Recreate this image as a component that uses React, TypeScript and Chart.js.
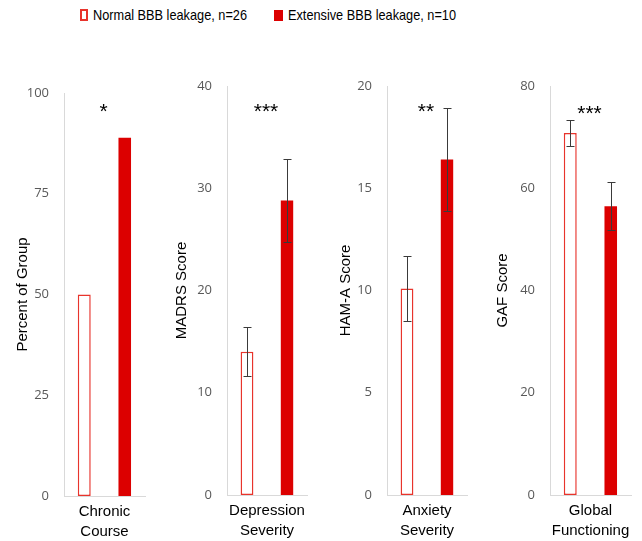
import React, { useEffect, useRef } from "react";
import { Chart, registerables } from "chart.js";

Chart.register(...registerables);

// ---- data ----
const categories: string[][] = [
  ["Chronic", "Course"],
  ["Depression", "Severity"],
  ["Anxiety", "Severity"],
  ["Global", "Functioning"],
];
const yTitles = ["Percent of Group", "MADRS Score", "HAM-A Score", "GAF Score"];
const yMax = [100, 40, 20, 80];
const yStep = [25, 10, 5, 20];
const normalValues = [50, 14.0, 10.1, 70.8];
const extensiveValues = [88.9, 28.8, 16.4, 56.5];
const normalErr: (number | null)[] = [null, 2.4, 1.6, 2.6];
const extensiveErr: (number | null)[] = [null, 4.05, 2.5, 4.7];
const significance = ["*", "***", "**", "***"];
const seriesLabels = ["Normal BBB leakage, n=26", "Extensive BBB leakage, n=10"];

// ---- layout / style ----
const RED_FILL = "#dc0000";
const RED_LINE = "#e8342c";
const AXIS_GREY = "#d9d9d9";
const CANVAS_TOP = 60;
const CANVAS_H = 481;
const PANELS = [
  { left: 0, width: 160, axisX: 64, axisRight: 145, top: 93, bottom: 496, titleCX: 23, starY: 106 },
  { left: 160, width: 160, axisX: 227, axisRight: 307, top: 86, bottom: 495, titleCX: 182, starY: 106 },
  { left: 320, width: 160, axisX: 387, axisRight: 467, top: 86, bottom: 495, titleCX: 346, starY: 106 },
  { left: 480, width: 162, axisX: 550, axisRight: 631, top: 86, bottom: 495, titleCX: 503, starY: 108 },
];
const SANS = "'Liberation Sans', Arial, sans-serif";
const LEGEND_FONT = "15px " + SANS;
const LEGEND_TEXT = [
  { left: 93, width: 154 },
  { left: 288, width: 168 },
];

function Panel({ idx }: { idx: number }) {
  const ref = useRef<HTMLCanvasElement | null>(null);
  const p = PANELS[idx];

  useEffect(() => {
    if (!ref.current) return;
    const errs = [normalErr[idx], extensiveErr[idx]];
    const errorBarPlugin = {
      id: "errorBars" + idx,
      afterDatasetsDraw(chart: any) {
        const ctx = chart.ctx;
        const yScale = chart.scales.y;
        ctx.save();
        ctx.strokeStyle = "#3a3a3a";
        ctx.lineWidth = 1;
        chart.data.datasets.forEach((ds: any, di: number) => {
          const e = errs[di];
          if (e == null) return;
          const bar = chart.getDatasetMeta(di).data[0];
          const v = ds.data[0];
          const x = Math.round(bar.x) + 0.5;
          const yHi = Math.round(yScale.getPixelForValue(v + e)) + 0.5;
          const yLo = Math.round(yScale.getPixelForValue(v - e)) + 0.5;
          ctx.beginPath();
          ctx.moveTo(x, yHi);
          ctx.lineTo(x, yLo);
          ctx.moveTo(x - 4, yHi);
          ctx.lineTo(x + 4, yHi);
          ctx.moveTo(x - 4, yLo);
          ctx.lineTo(x + 4, yLo);
          ctx.stroke();
        });
        ctx.restore();
      },
    };
    const starPlugin = {
      id: "sigStars" + idx,
      afterDraw(chart: any) {
        const ctx = chart.ctx;
        const ca = chart.chartArea;
        ctx.save();
        ctx.fillStyle = "#000";
        ctx.font = "21px " + SANS;
        ctx.textAlign = "center";
        ctx.textBaseline = "alphabetic";
        ctx.fillText(significance[idx], (ca.left + ca.right) / 2 - 1, p.starY - CANVAS_TOP + 12);
        ctx.restore();
      },
    };

    const chart = new Chart(ref.current, {
      type: "bar",
      data: {
        labels: [categories[idx]],
        datasets: [
          {
            label: seriesLabels[0],
            data: [normalValues[idx]],
            backgroundColor: "#ffffff",
            borderColor: RED_LINE,
            borderWidth: 1.5,
            borderSkipped: false,
            barPercentage: 0.32,
            categoryPercentage: 1,
          },
          {
            label: seriesLabels[1],
            data: [extensiveValues[idx]],
            backgroundColor: RED_FILL,
            borderWidth: 0,
            barPercentage: 0.31,
            categoryPercentage: 1,
          },
        ],
      },
      options: {
        animation: false,
        responsive: false,
        events: [],
        layout: {
          padding: {
            left: 0,
            top: p.top - CANVAS_TOP,
            right: p.width - (p.axisRight - p.left),
            bottom: 0,
          },
        },
        plugins: { legend: { display: false }, tooltip: { enabled: false } },
        scales: {
          x: {
            grid: { display: false, drawTicks: false },
            border: { display: true, color: AXIS_GREY, width: 1 },
            ticks: {
              color: "#000",
              padding: 6,
              font: { family: SANS, size: 15, lineHeight: 1.333 },
              maxRotation: 0,
              autoSkip: false,
            },
            afterFit: (s: any) => {
              s.height = CANVAS_TOP + CANVAS_H - p.bottom;
            },
          },
          y: {
            min: 0,
            max: yMax[idx],
            grid: { display: false, drawTicks: false },
            border: { display: true, color: AXIS_GREY, width: 1 },
            ticks: {
              stepSize: yStep[idx],
              color: "#595959",
              padding: 15,
              font: { family: "'Open Sans', sans-serif", size: 13 },
            },
            title: {
              display: true,
              text: yTitles[idx],
              color: "#000",
              font: { family: SANS, size: 15, lineHeight: 1.2 },
              padding: { top: p.titleCX - p.left - 9, bottom: 0 },
            },
            afterFit: (s: any) => {
              s.width = p.axisX - p.left;
            },
          },
        },
      },
      plugins: [errorBarPlugin, starPlugin],
    } as any);
    return () => chart.destroy();
  }, [idx]);

  return (
    <canvas
      ref={ref}
      width={p.width}
      height={CANVAS_H}
      style={{ position: "absolute", left: p.left, top: CANVAS_TOP, width: p.width, height: CANVAS_H }}
    />
  );
}

function measure(text: string): number {
  const c = document.createElement("canvas");
  const ctx = c.getContext("2d");
  if (!ctx) return 1;
  ctx.font = LEGEND_FONT;
  return ctx.measureText(text).width || 1;
}

export default function App() {
  const textStyle = (i: number): React.CSSProperties => ({
    position: "absolute",
    top: 6,
    left: LEGEND_TEXT[i].left,
    font: LEGEND_FONT,
    lineHeight: "17px",
    color: "#000",
    whiteSpace: "nowrap",
    transform: `scaleX(${LEGEND_TEXT[i].width / measure(seriesLabels[i])})`,
    transformOrigin: "left top",
  });
  return (
    <div style={{ position: "absolute", left: 0, top: 0, width: 642, height: 541, background: "#fff", overflow: "hidden" }}>
      <div
        style={{
          position: "absolute",
          left: 80,
          top: 9,
          width: 8,
          height: 12,
          boxSizing: "border-box",
          border: "2px solid " + RED_LINE,
          background: "#fff",
        }}
      />
      <div style={textStyle(0)}>{seriesLabels[0]}</div>
      <div
        style={{ position: "absolute", left: 274, top: 9.5, width: 9, height: 11, background: RED_FILL }}
      />
      <div style={textStyle(1)}>{seriesLabels[1]}</div>
      {PANELS.map((_, i) => (
        <Panel key={i} idx={i} />
      ))}
    </div>
  );
}
